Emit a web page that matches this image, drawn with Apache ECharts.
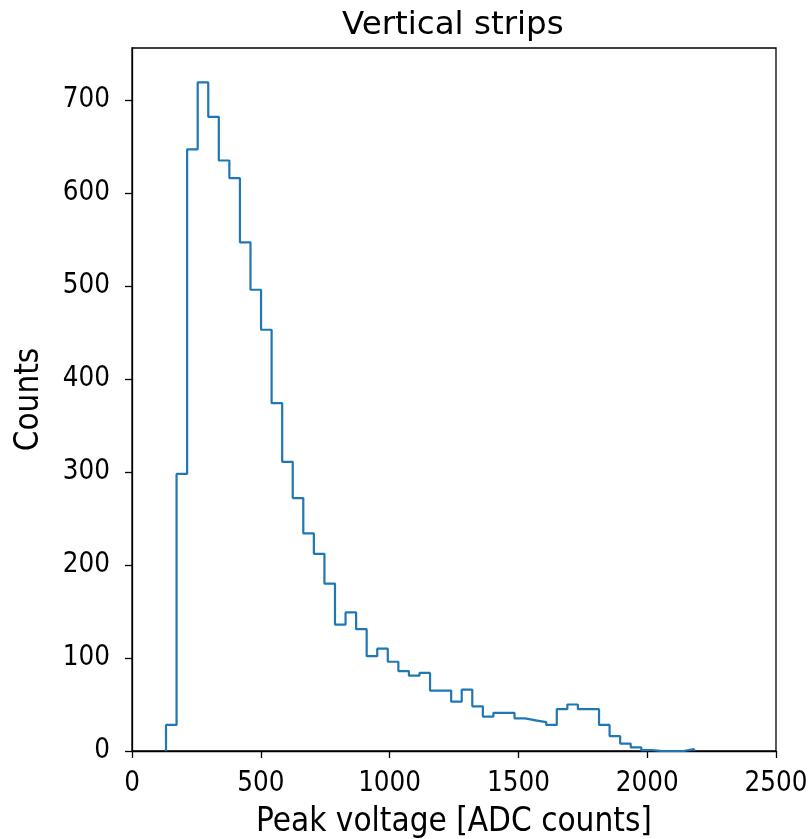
<!DOCTYPE html>
<html>
<head>
<meta charset="utf-8">
<title>Vertical strips</title>
<script src="https://cdn.jsdelivr.net/npm/echarts@6/dist/echarts.min.js"></script>
<style>
  html, body { margin: 0; padding: 0; background: #fff; }
  #main { width: 810px; height: 839px; }
</style>
</head>
<body>
<div id="main"></div>
<script>
// histogram bins: 50 equal bins, first edge + width
const binStart = 132;
const binWidth = 41;
const counts = [
  28, 298, 647, 719, 682, 635, 616, 547, 496, 453,
  374, 311, 272, 234, 212, 180, 136, 149, 131, 102,
  110, 96, 86, 81, 84, 65, 65, 53, 66, 48,
  37, 41, 41, 35, 33, 31, 28, 45, 50, 45,
  45, 28, 16, 8, 4, 1, 0, 0, 0, 2
];
const xTicks = [0, 500, 1000, 1500, 2000, 2500];
const yTicks = [0, 100, 200, 300, 400, 500, 600, 700];

const font = '"DejaVu Sans Condensed", "DejaVu Sans"';

// step outline like histtype='step'
function stepPoints() {
  const pts = [[binStart, 0]];
  for (let i = 0; i < counts.length; i++) {
    pts.push([binStart + i * binWidth, counts[i]]);
  }
  pts.push([binStart + counts.length * binWidth, 0]);
  return pts;
}

const chart = echarts.init(document.getElementById('main'), null, { renderer: 'canvas' });

const option = {
  animation: false,
  backgroundColor: '#fff',
  graphic: [{
    type: 'text',
    left: 342,
    top: 9,
    style: {
      text: 'Vertical strips',
      font: '32.5px "DejaVu Sans"',
      fill: '#000'
    }
  }],
  grid: {
    left: 132, right: 34, top: 48, bottom: 88,
    show: true,
    borderColor: '#000',
    borderWidth: 1.3,
    outerBoundsMode: 'none'
  },
  xAxis: {
    type: 'value',
    min: 0,
    max: 2500,
    interval: 500,
    name: 'Peak voltage [ADC counts]',
    nameLocation: 'middle',
    nameGap: 55,
    nameTextStyle: { fontFamily: font, fontSize: 33, color: '#000' },
    axisLine: { show: true, onZero: false, lineStyle: { color: '#000', width: 1.3 } },
    axisTick: { show: true, inside: false, length: 7, lineStyle: { color: '#000', width: 1.3 }, customValues: xTicks },
    axisLabel: {
      fontFamily: font, fontSize: 27.5, color: '#000', margin: 19, customValues: xTicks,
      formatter: v => String(v)
    },
    splitLine: { show: false }
  },
  yAxis: {
    type: 'value',
    min: 0,
    max: 756,
    interval: 100,
    name: 'Counts',
    nameLocation: 'middle',
    nameGap: 86,
    nameRotate: 90,
    nameTextStyle: { fontFamily: font, fontSize: 33, color: '#000' },
    axisLine: { show: true, onZero: false, lineStyle: { color: '#000', width: 1.3 } },
    axisTick: { show: true, inside: false, length: 7, lineStyle: { color: '#000', width: 1.3 }, customValues: yTicks },
    axisLabel: {
      fontFamily: font, fontSize: 27.5, color: '#000', margin: 22, customValues: yTicks,
      formatter: v => String(v)
    },
    splitLine: { show: false }
  },
  series: [{
    type: 'line',
    step: 'end',
    data: stepPoints(),
    showSymbol: false,
    symbol: 'none',
    lineStyle: { color: '#1f77b4', width: 2.2 },
    clip: true
  }]
};

chart.setOption(option);
</script>
</body>
</html>
